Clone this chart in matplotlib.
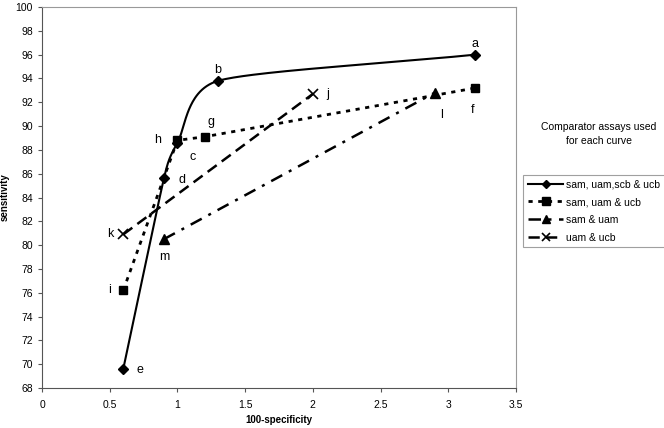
import numpy as np
import matplotlib
matplotlib.use("Agg")
import matplotlib.pyplot as plt
from matplotlib.lines import Line2D

plt.rcParams['font.family'] = ['Liberation Sans', 'DejaVu Sans']

# Data
s1_x = [0.6, 0.9, 1.0, 1.3, 3.2]
s1_y = [69.6, 85.6, 88.6, 93.8, 96.0]
s1_lab = ['e', 'd', 'c', 'b', 'a']

s2_x = [0.6, 1.0, 1.2, 3.2]
s2_y = [76.2, 88.8, 89.1, 93.2]
s2_lab = ['i', 'h', 'g', 'f']

s3_x = [0.9, 2.9]
s3_y = [80.5, 92.8]
s3_lab = ['m', 'l']

s4_x = [0.6, 2.0]
s4_y = [80.9, 92.7]
s4_lab = ['k', 'j']

names = ['sam, uam,scb & ucb', 'sam, uam & ucb', 'sam & uam', 'uam & ucb']

fig = plt.figure(figsize=(6.64, 4.28), dpi=100)
ax = fig.add_axes([0.0633, 0.0935, 0.7137, 0.8901])
ax.set_xlim(0, 3.5)
ax.set_ylim(68, 100)


def smooth_display(ax, xs, ys, n=60, f=0.45):
    # Bezier smoothing in display space; control arms limited by the shorter adjacent segment
    fig.canvas.draw()
    P = ax.transData.transform(np.column_stack([xs, ys]).astype(float))
    m = len(P)
    seg_len = np.linalg.norm(np.diff(P, axis=0), axis=1)
    U = np.zeros_like(P)
    A = np.zeros(m)
    for i in range(m):
        a = P[max(i - 1, 0)]
        b = P[min(i + 1, m - 1)]
        d = b - a
        U[i] = d / np.linalg.norm(d)
        adj = []
        if i > 0:
            adj.append(seg_len[i - 1])
        if i < m - 1:
            adj.append(seg_len[i])
        A[i] = min(adj) * f
    pts = []
    t = np.linspace(0, 1, n)[:, None]
    for i in range(m - 1):
        L = seg_len[i]
        c1 = P[i] + U[i] * min(A[i], L / 3 if i == 0 else A[i])
        c2 = P[i + 1] - U[i + 1] * min(A[i + 1], L / 3 if i + 1 == m - 1 else A[i + 1])
        seg = ((1 - t) ** 3) * P[i] + 3 * ((1 - t) ** 2) * t * c1 + 3 * (1 - t) * t ** 2 * c2 + t ** 3 * P[i + 1]
        pts.append(seg)
    pts = np.vstack(pts)
    D = ax.transData.inverted().transform(pts)
    return D[:, 0], D[:, 1]


st2 = dict(color='black', lw=2, ls=(0, (1.5, 2.0)), marker='s', ms=6)
st3 = dict(color='black', lw=1.8, ls=(0, (5, 3, 1.2, 3)), marker='^', ms=6.5)
st4 = dict(color='black', lw=1.8, ls=(0, (4.5, 2.5)), marker='x', ms=6.5, mew=1.2)

sx, sy = smooth_display(ax, s1_x, s1_y)
ax.plot(sx, sy, color='black', lw=1.5, zorder=3)
ax.plot(s1_x, s1_y, ls='none', marker='D', ms=5, color='black', zorder=4)

ax.plot(s2_x, s2_y, zorder=3, **st2)
ax.plot(s3_x, s3_y, zorder=3, **st3)
ax.plot(s4_x, s4_y, zorder=3, **st4)

offsets = {
    'a': (0, 8), 'b': (0, 8), 'c': (11, -10), 'd': (13, -1), 'e': (12, -1),
    'f': (-2, -16), 'g': (5, 11), 'h': (-14, 0), 'i': (-10, 0),
    'j': (11, 0), 'k': (-9, 0), 'l': (5, -16), 'm': (0, -13),
}
for xs, ys, labs in [(s1_x, s1_y, s1_lab), (s2_x, s2_y, s2_lab),
                     (s3_x, s3_y, s3_lab), (s4_x, s4_y, s4_lab)]:
    for x, y, l in zip(xs, ys, labs):
        ax.annotate(l, (x, y), xytext=offsets[l], textcoords='offset points',
                    ha='center', va='center', fontsize=9)

ax.set_xticks(np.arange(0, 3.51, 0.5))
ax.set_xticklabels(['0', '0.5', '1', '1.5', '2', '2.5', '3', '3.5'])
ax.set_yticks(np.arange(68, 101, 2))
ax.tick_params(labelsize=7.5, direction='out', length=3, color='#555555')
ax.tick_params(axis='x', pad=6)
for s in ['top', 'right']:
    ax.spines[s].set_color('#999999')
for s in ['left', 'bottom']:
    ax.spines[s].set_color('#555555')
ax.set_xlabel('100-specificity', fontsize=7, fontweight='bold', labelpad=3)
ax.set_ylabel('sensitivity', fontsize=7, fontweight='bold', labelpad=4)

fig.text(0.902, 0.687, 'Comparator assays used\nfor each curve', ha='center', va='center',
         fontsize=7.5, linespacing=1.5)

handles = [
    Line2D([], [], color='black', lw=1.5, marker='D', ms=4.5),
    Line2D([], [], **{**st2, 'ms': 5.5}),
    Line2D([], [], **{**st3, 'ms': 5.5}),
    Line2D([], [], **{**st4, 'ms': 6}),
]
leg = fig.legend(handles, names, loc='upper left', bbox_to_anchor=(0.788, 0.592),
                 fontsize=7.5, frameon=True, fancybox=False, edgecolor='#888888',
                 handlelength=3.4, handletextpad=0.3, borderpad=0.45, labelspacing=0.75,
                 borderaxespad=0)
leg.get_frame().set_linewidth(0.8)

fig.savefig('out.png', dpi=100)
